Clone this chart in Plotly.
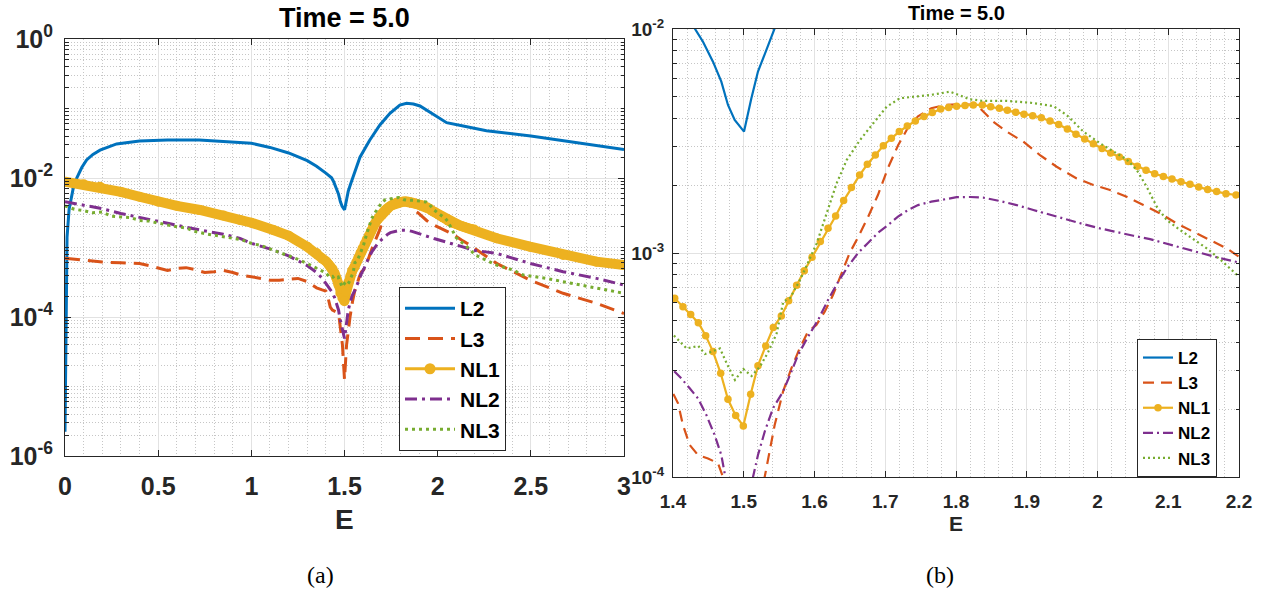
import plotly.graph_objects as go

# ---------------- data (E, log10 of error) ----------------
E_L2 = [0, 0.011, 0.022, 0.033, 0.044, 0.063, 0.09, 0.116, 0.15, 0.188, 0.277, 0.4, 0.55, 0.72, 0.9,
        1.0, 1.1, 1.2, 1.3, 1.35, 1.4, 1.4306, 1.4424, 1.4565, 1.4683, 1.4777, 1.4872, 1.5004, 1.5107,
        1.5201, 1.5319, 1.5437, 1.583, 1.636, 1.69, 1.744, 1.797, 1.833, 1.87, 1.905, 1.95, 1.994,
        2.048, 2.137, 2.262, 2.5, 2.763, 3.0]
LOG_L2 = [-5.65, -2.85, -2.45, -2.27, -2.15, -2.0, -1.85, -1.74, -1.66, -1.60, -1.51, -1.468, -1.453,
          -1.453, -1.477, -1.50, -1.56, -1.64, -1.75, -1.83, -1.93, -1.997, -2.057, -2.146, -2.235,
          -2.339, -2.406, -2.458, -2.310, -2.190, -2.094, -1.997, -1.70, -1.453, -1.237, -1.069,
          -0.95, -0.925, -0.935, -0.964, -1.04, -1.118, -1.204, -1.252, -1.319, -1.396, -1.501, -1.59]

E_L3 = [0, 0.1, 0.2, 0.3, 0.4, 0.45, 0.5, 0.55, 0.6, 0.65, 0.7, 0.75, 0.8, 0.85, 0.9, 0.95, 1.0, 1.05,
        1.1, 1.15, 1.2, 1.25, 1.3, 1.35, 1.38, 1.4, 1.4071, 1.4141, 1.4236, 1.4353, 1.4495, 1.4636,
        1.4707, 1.4889, 1.5, 1.5111, 1.5296, 1.5343, 1.5437, 1.5555, 1.5673, 1.5790, 1.5908, 1.6026,
        1.6144, 1.6261, 1.6379, 1.6497, 1.6615, 1.6756, 1.6898, 1.7039, 1.7180, 1.7322, 1.7463,
        1.7651, 1.7840, 1.8057, 1.8292, 1.8386, 1.8528, 1.8716, 1.8952, 1.9187, 1.9423, 1.9706,
        1.9941, 2.0177, 2.0412, 2.0648, 2.0884, 2.1119, 2.1355, 2.1590, 2.1826, 2.1996, 2.316,
        2.495, 2.673, 2.852, 3.0]
LOG_L3 = [-3.155, -3.18, -3.21, -3.22, -3.23, -3.26, -3.30, -3.33, -3.30, -3.29, -3.32, -3.36, -3.35,
          -3.33, -3.36, -3.40, -3.42, -3.44, -3.47, -3.47, -3.46, -3.445, -3.49, -3.58, -3.61, -3.626,
          -3.671, -3.768, -3.857, -3.902, -3.917, -3.939, -4.0, -4.4, -4.9, -4.4, -4.0, -3.917, -3.768,
          -3.619, -3.515, -3.426, -3.351, -3.321, -3.262, -3.188, -3.09, -3.00, -2.93, -2.84, -2.74,
          -2.62, -2.52, -2.44, -2.39, -2.354, -2.339, -2.336, -2.339, -2.369, -2.414, -2.458, -2.503,
          -2.563, -2.615, -2.667, -2.696, -2.719, -2.749, -2.786, -2.823, -2.868, -2.905, -2.942,
          -2.979, -3.016, -3.228, -3.468, -3.659, -3.803, -3.95]

E_NL1 = [0, 0.1, 0.188, 0.3, 0.4, 0.5, 0.6, 0.724, 0.85, 0.939, 1.0, 1.118, 1.2, 1.3, 1.35, 1.38,
         1.4024, 1.4141, 1.4250, 1.4358, 1.4462, 1.4565, 1.4674, 1.4777, 1.4886, 1.4994, 1.5098,
         1.5201, 1.5310, 1.5418, 1.5531, 1.5635, 1.5748, 1.5856, 1.5965, 1.6082, 1.6191, 1.6299,
         1.6412, 1.6521, 1.6638, 1.6747, 1.6860, 1.6973, 1.7086, 1.7199, 1.7312, 1.7425, 1.7548,
         1.7665, 1.7783, 1.7896, 1.8009, 1.8127, 1.8245, 1.8372, 1.8490, 1.8613, 1.8726, 1.8844,
         1.8961, 1.9084, 1.9206, 1.9329, 1.9451, 1.9574, 1.9696, 1.9819, 1.9941, 2.0064, 2.0186,
         2.0309, 2.0436, 2.0563, 2.0686, 2.0808, 2.0931, 2.1053, 2.1180, 2.1307, 2.1430, 2.1557,
         2.1684, 2.1816, 2.1958, 2.316, 2.495, 2.673, 2.852, 3.0]
LOG_NL1 = [-2.053, -2.09, -2.125, -2.20, -2.27, -2.341, -2.40, -2.46, -2.54, -2.604, -2.643, -2.748,
           -2.83, -2.99, -3.08, -3.16,
           -3.202, -3.240, -3.274, -3.311, -3.369, -3.440, -3.537, -3.653, -3.726, -3.772, -3.631,
           -3.503, -3.415, -3.333, -3.281, -3.213, -3.144, -3.079, -3.019, -2.949, -2.890, -2.835,
           -2.766, -2.708, -2.652, -2.604, -2.563, -2.521, -2.488, -2.458, -2.433, -2.411, -2.391,
           -2.373, -2.357, -2.350, -2.345, -2.341, -2.339, -2.339, -2.347, -2.354, -2.363, -2.372,
           -2.381, -2.387, -2.396, -2.411, -2.426, -2.446, -2.470, -2.491, -2.512, -2.533, -2.554,
           -2.571, -2.592, -2.613, -2.631, -2.646, -2.658, -2.670, -2.682, -2.693, -2.705, -2.717,
           -2.726, -2.735, -2.741, -2.868, -2.988, -3.108, -3.204, -3.252]

E_NL2 = [0, 0.1, 0.188, 0.3, 0.4, 0.5, 0.6, 0.724, 0.85, 0.939, 1.0, 1.118, 1.2, 1.3, 1.35, 1.38,
         1.4000, 1.4118, 1.4236, 1.4353, 1.4471, 1.4589, 1.4683, 1.4740, 1.4889, 1.5, 1.5056, 1.5131,
         1.5201, 1.5296, 1.5413, 1.5555, 1.5673, 1.5767, 1.5908, 1.6049, 1.6191, 1.6332, 1.6473,
         1.6615, 1.6756, 1.6898, 1.7039, 1.7180, 1.7322, 1.7463, 1.7651, 1.7840, 1.8009, 1.8198,
         1.8386, 1.8622, 1.8857, 1.9093, 1.9329, 1.9564, 1.9800, 2.0035, 2.0271, 2.0507, 2.0742,
         2.0978, 2.1213, 2.1449, 2.1684, 2.1996, 2.316, 2.495, 2.673, 2.852, 3.0]
LOG_NL2 = [-2.341, -2.39, -2.436, -2.51, -2.57, -2.629, -2.68, -2.748, -2.81, -2.868, -2.94, -3.036,
           -3.12, -3.26, -3.36, -3.44,
           -3.522, -3.560, -3.604, -3.649, -3.723, -3.813, -3.902, -4.0, -4.2, -4.31, -4.2, -4.0,
           -3.902, -3.798, -3.693, -3.619, -3.530, -3.455, -3.374, -3.30, -3.21, -3.13, -3.06, -3.0,
           -2.955, -2.91, -2.875, -2.838, -2.808, -2.786, -2.771, -2.759, -2.751, -2.750, -2.753,
           -2.768, -2.786, -2.808, -2.830, -2.850, -2.871, -2.890, -2.908, -2.923, -2.938, -2.957,
           -2.979, -2.999, -3.019, -3.042, -3.084, -3.228, -3.348, -3.444, -3.54]

E_NL3 = [0, 0.05, 0.1, 0.15, 0.2, 0.25, 0.3, 0.35, 0.4, 0.45, 0.5, 0.55, 0.6, 0.65, 0.7, 0.75, 0.8,
         0.85, 0.9, 0.95, 1.0, 1.05, 1.1, 1.15, 1.2, 1.25, 1.3, 1.35, 1.38,
         1.4005, 1.4193, 1.4358, 1.4452, 1.4664, 1.4759, 1.4876, 1.4994, 1.5112, 1.5230, 1.5347,
         1.5465, 1.5559, 1.5654, 1.5795,
         1.6031, 1.6172, 1.6313, 1.6455, 1.6643, 1.6831, 1.7020, 1.7208, 1.7397, 1.7633, 1.7915,
         1.8198, 1.8386, 1.8716, 1.9046, 1.9376, 1.9564, 1.9800, 2.0035, 2.0271, 2.0412, 2.0554,
         2.0695, 2.0837, 2.0978, 2.1166, 2.1355, 2.1543, 2.1732, 2.1920, 2.2000,
         2.316, 2.405, 2.459, 2.584, 2.673, 2.763, 2.852, 3.0]
LOG_NL3 = [-2.40, -2.45, -2.47, -2.50, -2.49, -2.55, -2.56, -2.57, -2.61, -2.62, -2.65, -2.68, -2.70,
           -2.72, -2.77, -2.80, -2.82, -2.85, -2.86, -2.89, -2.94, -2.97, -3.02, -3.07, -3.11, -3.17,
           -3.23, -3.30, -3.34,
           -3.366, -3.426, -3.415, -3.451, -3.426, -3.493, -3.567, -3.518, -3.549, -3.507, -3.441,
           -3.359, -3.217, -3.201, -3.121,
           -2.957, -2.823, -2.689, -2.585, -2.496, -2.421, -2.347, -2.309, -2.302, -2.295, -2.280,
           -2.314, -2.321, -2.321, -2.329, -2.344, -2.384, -2.458, -2.510, -2.555, -2.582, -2.629,
           -2.704, -2.793, -2.853, -2.897, -2.939, -2.979, -3.028, -3.083, -3.106,
           -3.252, -3.324, -3.396, -3.444, -3.492, -3.54, -3.588, -3.659]

SERIES = ["L2", "L3", "NL1", "NL2", "NL3"]
COLORS = {"L2": "#0072BD", "L3": "#D95319", "NL1": "#EDB120", "NL2": "#7E2F8E", "NL3": "#77AC30"}

LEFT_XTICKS = [0, 0.5, 1, 1.5, 2, 2.5, 3]
LEFT_XTEXT = ["0", "0.5", "1", "1.5", "2", "2.5", "3"]
LEFT_YTICKS = [1e-6, 1e-4, 1e-2, 1]
LEFT_YTEXT = ["10<sup>-6</sup>", "10<sup>-4</sup>", "10<sup>-2</sup>", "10<sup>0</sup>"]
RIGHT_XTICKS = [1.4, 1.5, 1.6, 1.7, 1.8, 1.9, 2.0, 2.1, 2.2]
RIGHT_XTEXT = ["1.4", "1.5", "1.6", "1.7", "1.8", "1.9", "2", "2.1", "2.2"]
RIGHT_YTICKS = [1e-4, 1e-3, 1e-2]
RIGHT_YTEXT = ["10<sup>-4</sup>", "10<sup>-3</sup>", "10<sup>-2</sup>"]

TITLE = "Time = 5.0"
XLABEL = "E"

# ---------------- styling ----------------
W, H = 1270, 592
FONT = "Liberation Sans, Arial, Helvetica, sans-serif"
AXC = "#262626"
GRID = "#e2e2e2"
MGRID = "#c6c6c6"


def vals(logs):
    return [10 ** v for v in logs]


def log_minor(lo, hi, majors):
    out = []
    for k in range(lo, hi):
        for m in range(1, 10):
            if m == 1 and k in majors:
                continue
            out.append(m * 10.0 ** k)
    return out


data = {
    "L2": (E_L2, vals(LOG_L2)),
    "L3": (E_L3, vals(LOG_L3)),
    "NL1": (E_NL1, vals(LOG_NL1)),
    "NL2": (E_NL2, vals(LOG_NL2)),
    "NL3": (E_NL3, vals(LOG_NL3)),
}

LEFT_STYLE = {
    "L2": dict(width=3, dash="solid"),
    "L3": dict(width=3, dash="15px,8px"),
    "NL1": dict(width=3, dash="solid"),
    "NL2": dict(width=3, dash="12px,5px,3px,5px"),
    "NL3": dict(width=3, dash="3px,4px"),
}
RIGHT_STYLE = {
    "L2": dict(width=2.2, dash="solid"),
    "L3": dict(width=2.2, dash="11px,7px"),
    "NL1": dict(width=2.2, dash="solid"),
    "NL2": dict(width=2.2, dash="10px,4px,2px,4px"),
    "NL3": dict(width=2.2, dash="2px,3px"),
}

fig = go.Figure()

# ---- left panel ----
for name in SERIES:
    x, y = data[name]
    st = LEFT_STYLE[name]
    if name == "NL1":
        # dense markers form a thick band
        fig.add_trace(go.Scatter(x=x, y=y, mode="lines+markers", showlegend=False,
                                 line=dict(color=COLORS[name], width=10),
                                 marker=dict(size=10, color=COLORS[name]),
                                 xaxis="x", yaxis="y"))
        fig.add_trace(go.Scatter(x=[None], y=[None], mode="lines+markers", name=name,
                                 line=dict(color=COLORS[name], width=st["width"]),
                                 marker=dict(size=11, color=COLORS[name]),
                                 xaxis="x", yaxis="y", legend="legend"))
    else:
        fig.add_trace(go.Scatter(x=x, y=y, mode="lines", name=name,
                                 line=dict(color=COLORS[name], width=st["width"], dash=st["dash"]),
                                 xaxis="x", yaxis="y", legend="legend"))

# ---- right panel ----
for name in SERIES:
    x, y = data[name]
    st = RIGHT_STYLE[name]
    if name == "NL1":
        fig.add_trace(go.Scatter(x=x, y=y, mode="lines+markers", name=name,
                                 line=dict(color=COLORS[name], width=st["width"]),
                                 marker=dict(size=7.5, color=COLORS[name]),
                                 xaxis="x2", yaxis="y2", legend="legend2"))
    else:
        fig.add_trace(go.Scatter(x=x, y=y, mode="lines", name=name,
                                 line=dict(color=COLORS[name], width=st["width"], dash=st["dash"]),
                                 xaxis="x2", yaxis="y2", legend="legend2"))


def xaxis(domain, anchor, rng, tickvals, ticktext, minor_dt, fsize, standoff):
    return dict(domain=domain, anchor=anchor, range=rng, tickmode="array", automargin=False,
                tickvals=tickvals, ticktext=ticktext, ticks="inside", ticklen=6,
                tickcolor=AXC, tickwidth=1, showline=True, linecolor=AXC, linewidth=1,
                mirror="ticks", showgrid=True, gridcolor=GRID, gridwidth=1, zeroline=False,
                tickfont=dict(family=FONT, size=fsize, color=AXC, weight="bold"),
                ticklabelstandoff=standoff,
                minor=dict(tickmode="linear", tick0=0, dtick=minor_dt, showgrid=True,
                           gridcolor=MGRID, griddash="1px,2px", gridwidth=1, ticks=""))


def yaxis(domain, anchor, rng, tickvals, ticktext, minorvals, fsize, standoff):
    return dict(domain=domain, anchor=anchor, type="log", range=rng, tickmode="array",
                automargin=False,
                tickvals=tickvals, ticktext=ticktext, ticks="inside", ticklen=6,
                tickcolor=AXC, tickwidth=1, showline=True, linecolor=AXC, linewidth=1,
                mirror="ticks", showgrid=True, gridcolor=GRID, gridwidth=1, zeroline=False,
                tickfont=dict(family=FONT, size=fsize, color=AXC, weight="bold"),
                ticklabelstandoff=standoff,
                minor=dict(tickmode="array", tickvals=minorvals, showgrid=True,
                           gridcolor=MGRID, griddash="1px,2px", gridwidth=1,
                           ticks="inside", ticklen=3.5, tickcolor=AXC))


fig.update_layout(
    width=W, height=H, margin=dict(l=0, r=0, t=0, b=0, autoexpand=False),
    paper_bgcolor="white", plot_bgcolor="white",
    font=dict(family=FONT, color="black"),
    xaxis=xaxis([65 / W, 624 / W], "y", [0, 3], LEFT_XTICKS, LEFT_XTEXT, 0.1, 25, 8),
    yaxis=yaxis([1 - 456 / H, 1 - 39 / H], "x", [-6, 0], LEFT_YTICKS, LEFT_YTEXT,
                log_minor(-6, 0, {-6, -4, -2}), 25, 6),
    xaxis2=xaxis([673 / W, 1239 / W], "y2", [1.4, 2.2], RIGHT_XTICKS, RIGHT_XTEXT, 0.02, 19, 7),
    yaxis2=yaxis([1 - 477 / H, 1 - 29 / H], "x2", [-4, -2], RIGHT_YTICKS, RIGHT_YTEXT,
                 log_minor(-4, -2, {-4, -3}), 19, 4),
    legend=dict(x=399 / W, y=1 - 287 / H, xanchor="left", yanchor="top", bgcolor="white",
                bordercolor=AXC, borderwidth=1, tracegroupgap=0, itemwidth=50,
                font=dict(family=FONT, size=21, color="black", weight="bold")),
    legend2=dict(x=1137 / W, y=1 - 339 / H, xanchor="left", yanchor="top", bgcolor="white",
                 bordercolor=AXC, borderwidth=1, tracegroupgap=0,
                 font=dict(family=FONT, size=17, color="black", weight="bold")),
    showlegend=True,
)

ann = [
    dict(text=TITLE, x=344.5 / W, y=1 - 18 / H, font=dict(size=27, weight="bold")),
    dict(text=TITLE, x=956 / W, y=1 - 12.5 / H, font=dict(size=20, weight="bold")),
    dict(text=XLABEL, x=344.5 / W, y=1 - 519 / H, font=dict(size=28, weight="bold", color=AXC)),
    dict(text=XLABEL, x=956 / W, y=1 - 523 / H, font=dict(size=21, weight="bold", color=AXC)),
    dict(text="(a)", x=320 / W, y=1 - 575 / H,
         font=dict(size=24, family="Liberation Serif, DejaVu Serif, serif")),
    dict(text="(b)", x=940 / W, y=1 - 575 / H,
         font=dict(size=24, family="Liberation Serif, DejaVu Serif, serif")),
]
for a in ann:
    f = dict(family=FONT, color="black")
    f.update(a["font"])
    fig.add_annotation(text=a["text"], x=a["x"], y=a["y"], xref="paper", yref="paper",
                       xanchor="center", yanchor="middle", showarrow=False, font=f)

fig.write_html("out.html", config={"displayModeBar": False},
               post_script="document.body.style.margin='0';document.body.style.overflow='hidden';")
